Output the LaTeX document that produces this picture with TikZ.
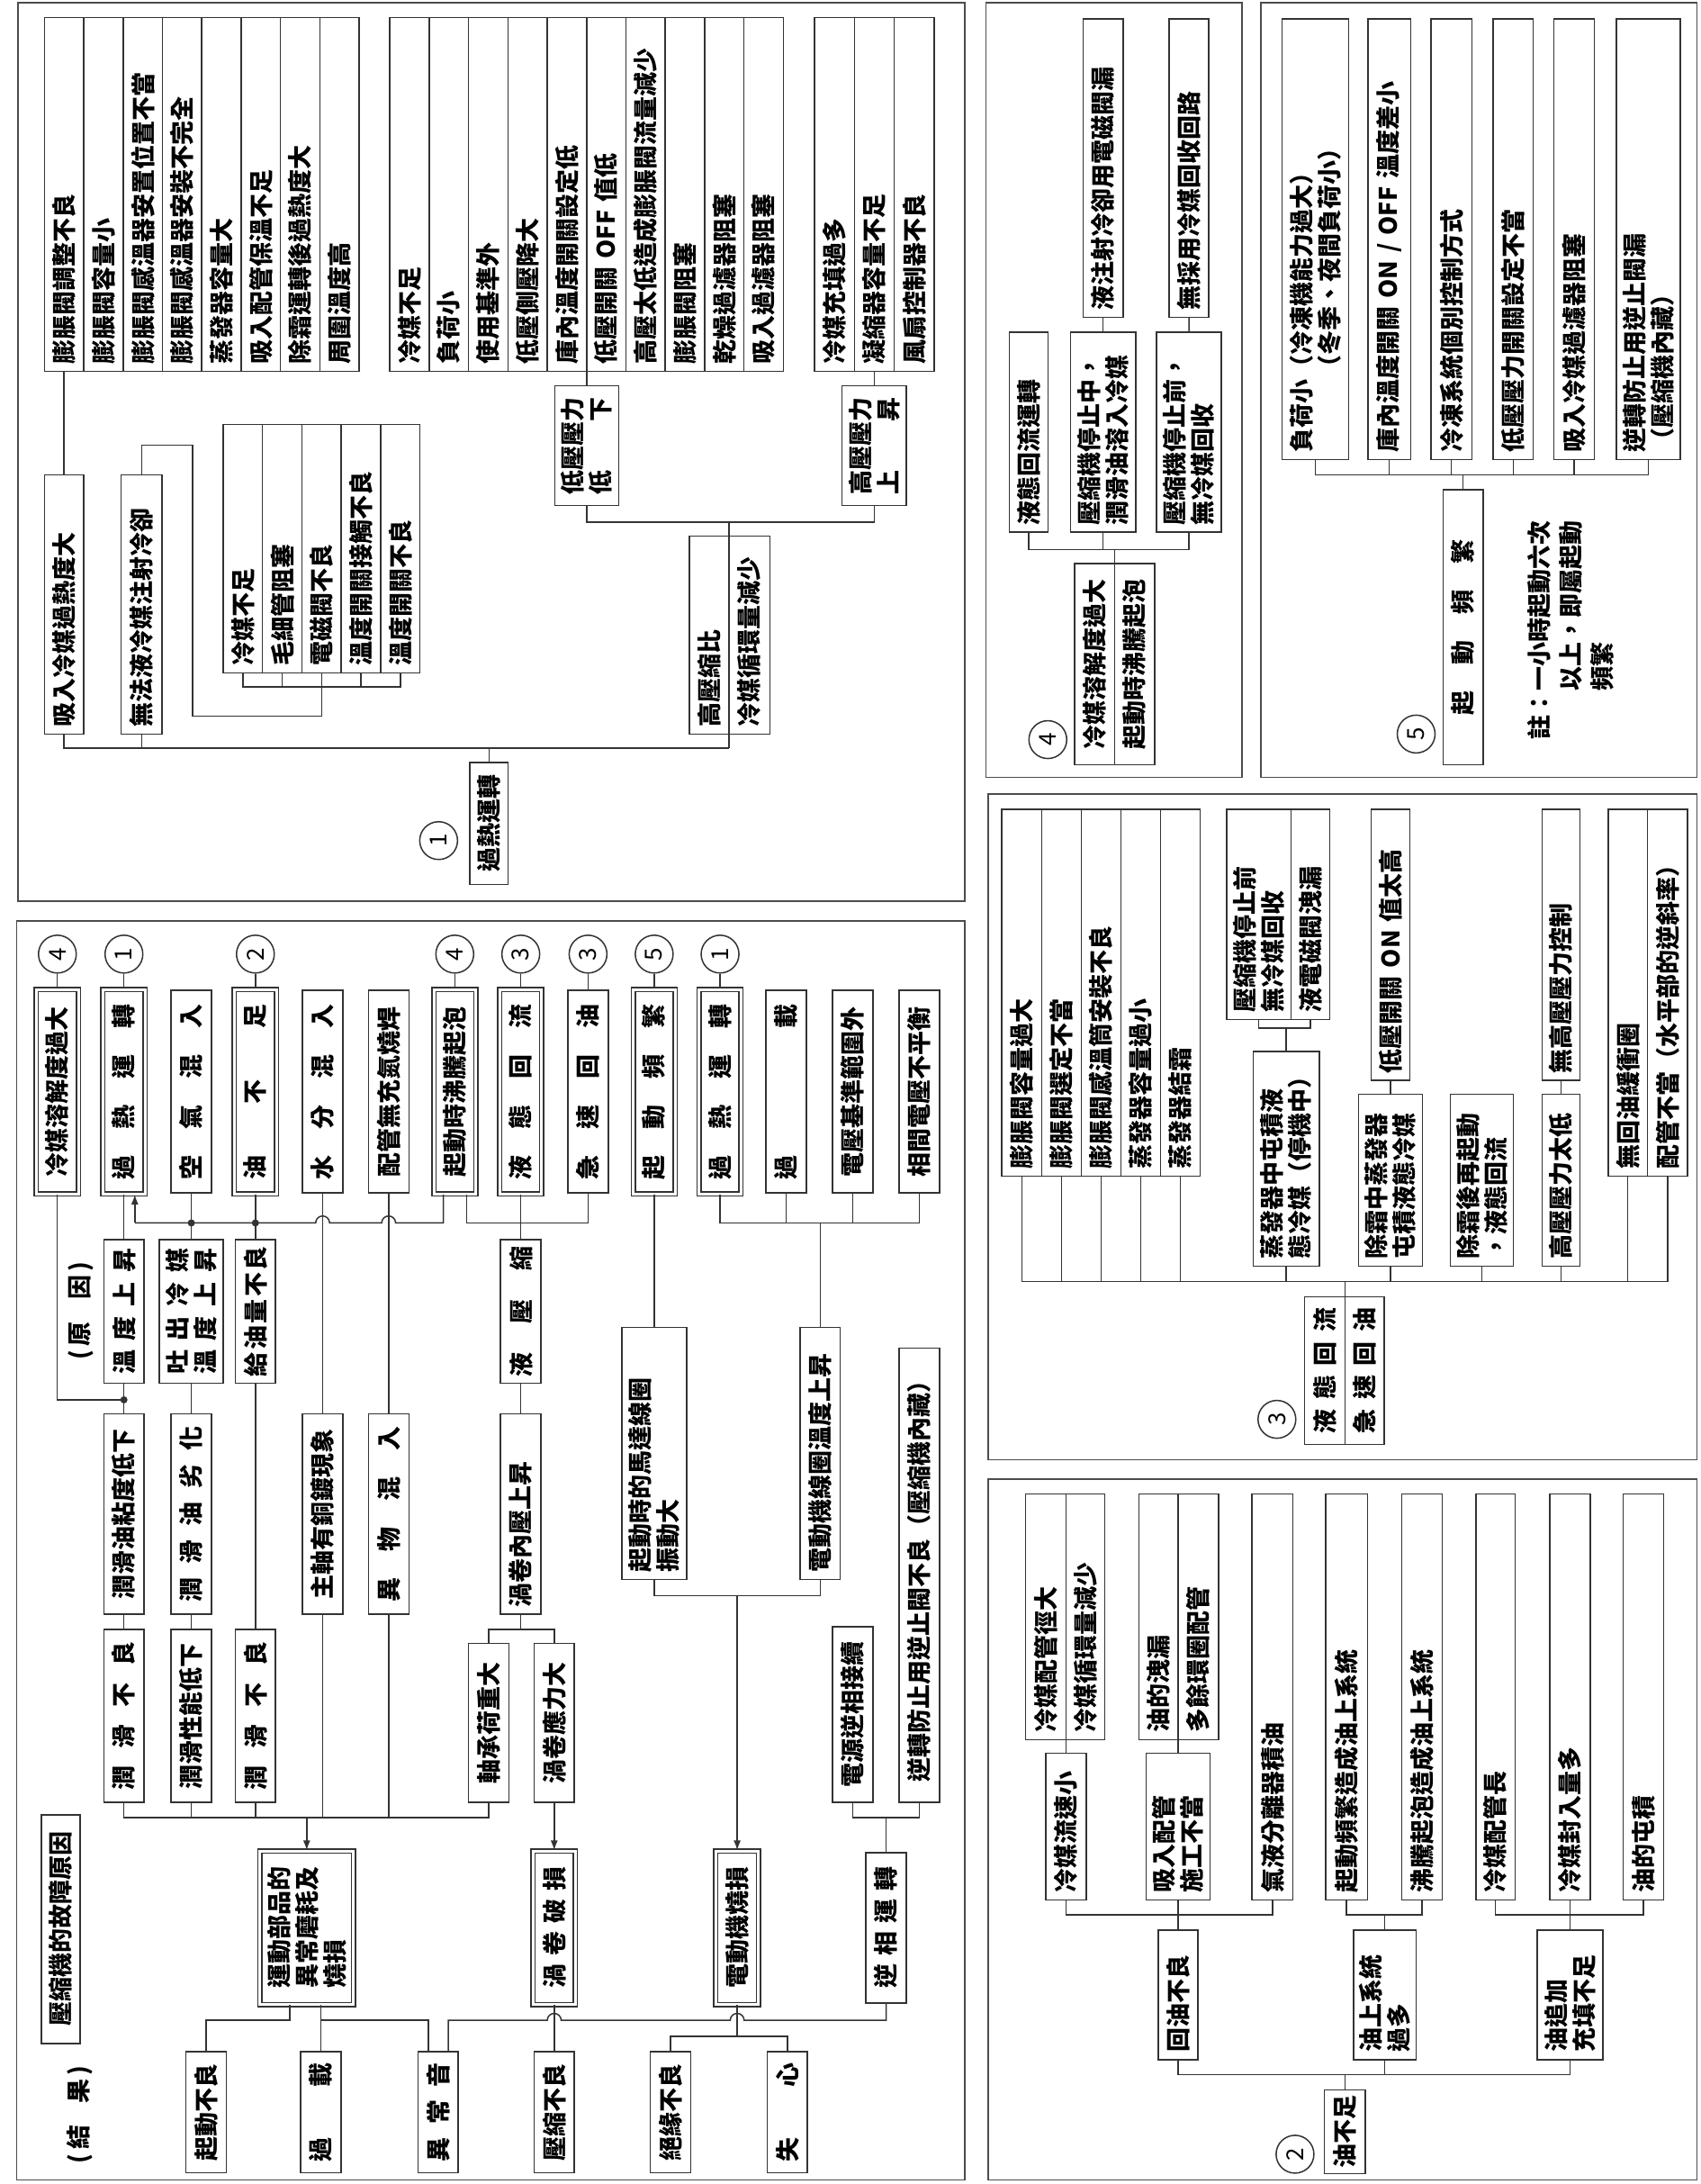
\documentclass[tikz,border=0pt]{standalone}
\usepackage{fontspec}
\setmainfont{Noto Sans CJK TC}
\usetikzlibrary{arrows.meta}
\newcommand\U{1.547pt}
\newcommand\fs{\fontsize{27pt}{31pt}\selectfont\bfseries}
\newcommand\spr[2]{\makebox[#1]{#2}}
\tikzset{
  ln/.style={line width=1.5pt,draw=black!80},
  ar/.style={ln,-{Latex[length=11pt,width=8pt]}},
  bx/.style={draw=black!80,line width=1.5pt,fill=white,rotate=90,inner sep=0pt,align=center,font=\fs},
  db/.style={double=white,double distance=3pt},
  circ/.style={draw=black!80,line width=1.5pt,circle,minimum size=42pt,inner sep=0pt,rotate=90,font=\fontsize{26pt}{26pt}\selectfont},
  frame/.style={draw=black!70,line width=1.6pt},
  lbl/.style={rotate=90,font=\fs,inner sep=0pt},
}
\newcommand\bx[7][]{\node[bx,minimum width={(#6-#5)*\U},minimum height={(#4-#3)*\U},#1] (#2) at ({(#3+#4)/2},{(#5+#6)/2}) {#7};}
\newcommand\lbx[7][]{\node[bx,align=left,inner xsep=8pt,text width={(#6-#5)*\U-16pt},minimum height={(#4-#3)*\U},#1] (#2) at ({(#3+#4)/2},{(#5+#6)/2}) {#7};}
\newcommand\dbx[7][]{\node[bx,db,minimum width={(#6-#5)*\U-6pt},minimum height={(#4-#3)*\U-6pt},#1] (#2) at ({(#3+#4)/2},{(#5+#6)/2}) {#7};}
\newcommand\jdot[1]{\fill[black!80] (#1) circle (4pt);}
\begin{document}
\begin{tikzpicture}[x=1.547pt,y=-1.547pt]
\fill[white] (0,0) rectangle (1221,1568);
% ---------------- frames
\draw[frame] (12,661) rectangle (693,1565);
\draw[frame] (13,2) rectangle (693,647);
\draw[frame] (708,2) rectangle (892,558);
\draw[frame] (905.6,2) rectangle (1218.6,558);
\draw[frame] (709.5,570) rectangle (1218.6,1048);
\draw[frame] (709.5,1062) rectangle (1218.6,1565);

% ================= PANEL A =================
\dbx{tA1}{24.2}{58.2}{708.5}{859}{冷媒溶解度過大}
\dbx{tA2}{72}{106}{708.5}{859}{\spr{195pt}{過\hfill 熱\hfill 運\hfill 轉}}
\bx{tA3}{122.9}{151.9}{711}{856.5}{\spr{195pt}{空\hfill 氣\hfill 混\hfill 入}}
\dbx{tA4}{166.4}{200.4}{708.5}{859}{\spr{195pt}{油\hfill 不\hfill 足}}
\bx{tA5}{217.2}{246.2}{711}{856.5}{\spr{195pt}{水\hfill 分\hfill 混\hfill 入}}
\bx{tA6}{264.6}{293.6}{711}{856.5}{配管無充氮燒焊}
\dbx{tA7}{309.6}{343.6}{708.5}{859}{起動時沸騰起泡}
\dbx{tA8}{357}{391}{708.5}{859}{\spr{195pt}{液\hfill 態\hfill 回\hfill 流}}
\bx{tA9}{407.8}{436.8}{711}{856.5}{\spr{195pt}{急\hfill 速\hfill 回\hfill 油}}
\dbx{tA10}{452.8}{486.8}{708.5}{859}{\spr{195pt}{起\hfill 動\hfill 頻\hfill 繁}}
\dbx{tA11}{500.1}{534.1}{708.5}{859}{\spr{195pt}{過\hfill 熱\hfill 運\hfill 轉}}
\bx{tA12}{550.1}{579.1}{711}{856.5}{\spr{195pt}{過\hfill 載}}
\bx{tA13}{597.9}{626.9}{711}{856.5}{電壓基準範圍外}
\bx{tA14}{645.8}{674.8}{711}{856.5}{相間電壓不平衡}

\node[circ] (k1) at (41.2,685) {4};
\node[circ] (k2) at (89,685) {1};
\node[circ] (k3) at (183.4,685) {2};
\node[circ] (k4) at (326.6,685) {4};
\node[circ] (k5) at (374,685) {3};
\node[circ] (k6) at (422.3,685) {3};
\node[circ] (k7) at (469.8,685) {5};
\node[circ] (k8) at (517.1,685) {1};

\bx{L2a}{74.5}{103.5}{890}{993}{\spr{140pt}{溫\hfill 度\hfill 上\hfill 昇}}
\bx{L2b}{114.4}{160.4}{890}{993}{\spr{140pt}{吐\hfill 出\hfill 冷\hfill 媒}\\\spr{140pt}{溫\hfill 度\hfill 上\hfill 昇}}
\bx{L2c}{168.9}{197.9}{890}{993}{\spr{145pt}{給\hfill 油\hfill 量\hfill 不\hfill 良}}
\bx{L2d}{359.5}{388.5}{890}{993}{\spr{145pt}{液\hfill 壓\hfill 縮}}
\node[lbl] (yuanyin) at (58.4,941) {(\,原\hspace{0.9em}因\,)};

\bx{L3a}{74.5}{103.5}{1015}{1159}{潤滑油粘度低下}
\bx{L3b}{122.9}{151.9}{1015}{1159}{\spr{195pt}{潤\hfill 滑\hfill 油\hfill 劣\hfill 化}}
\bx{L3c}{217.2}{246.2}{1015}{1159}{主軸有銅鍍現象}
\bx{L3d}{264.6}{293.6}{1015}{1159}{\spr{195pt}{異\hfill 物\hfill 混\hfill 入}}
\lbx{L3e}{359.5}{388.5}{1015}{1159}{渦卷內壓上昇}
\lbx{SM}{446.5}{493.1}{953}{1134}{起動時的馬達線圈\\振動大}
\lbx{MC}{574.5}{603.5}{953}{1134}{電動機線圈溫度上昇}
\bx{CV}{645.8}{674.8}{968}{1294}{逆轉防止用逆止閥不良（壓縮機內藏）}
\bx{PR}{597.9}{626.9}{1168}{1294}{電源逆相接續}

\bx{L4a}{74.5}{103.5}{1170}{1294}{\spr{165pt}{潤\hfill 滑\hfill 不\hfill 良}}
\bx{L4b}{122.9}{151.9}{1170}{1294}{潤滑性能低下}
\bx{L4c}{168.9}{197.9}{1170}{1294}{\spr{165pt}{潤\hfill 滑\hfill 不\hfill 良}}
\bx{L4d}{336.5}{365.5}{1180}{1294}{軸承荷重大}
\bx{L4e}{383.5}{412.5}{1180}{1294}{渦卷應力大}

\dbx[align=left]{MP}{184.8}{255.7}{1327}{1441}{運動部品的\\異常磨耗及\\燒損}
\dbx{SB}{381}{415}{1327}{1441}{\spr{135pt}{渦\hfill 卷\hfill 破\hfill 損}}
\dbx{MB}{512.2}{546.6}{1327}{1441}{電動機燒損}
\bx{RP}{621.85}{650.85}{1330}{1438}{\spr{135pt}{逆\hfill 相\hfill 運\hfill 轉}}

\bx{TT}{29.7}{57.5}{1303}{1467}{壓縮機的故障原因}
\node[lbl] (jieguo) at (57,1518) {(\,結\hspace{0.9em}果\,)};

\bx{R1}{133.5}{162.5}{1473}{1560}{起動不良}
\bx{R2}{215.9}{244.9}{1473}{1560}{\spr{110pt}{過\hfill 載}}
\bx{R3}{300.1}{329.1}{1473}{1560}{\spr{110pt}{異\hfill 常\hfill 音}}
\bx{R4}{383.5}{412.5}{1473}{1560}{壓縮不良}
\bx{R5}{467.1}{496.1}{1473}{1560}{絕緣不良}
\bx{R6}{550.9}{579.9}{1473}{1560}{\spr{110pt}{失\hfill 心}}

% connectors panel A
\foreach \a/\b in {k1/tA1,k2/tA2,k3/tA4,k4/tA7,k5/tA8,k6/tA9,k7/tA10,k8/tA11}{\draw[ln] (\a) -- (\b);}
\draw[ln] (tA7.west -| 318.4,0) -- (318.4,878) -- (284.1,878) arc[start angle=0,end angle=180,radius=5*\U] -- (236.7,878) arc[start angle=0,end angle=180,radius=5*\U] -- (96.8,878);
\draw[ar] (96.8,878) -- (tA2.west -| 96.8,0);
\draw[ln] (tA3) -- (L2b);
\draw[ln] (tA4) -- (L2c);
\draw[ln] (tA2) -- (L2a);
\draw[ln] (tA5) -- (L3c);
\draw[ln] (tA6) -- (L3d);
\jdot{137.4,878}
\jdot{183.4,878}
\draw[ln] (tA7.west -| 335.2,0) -- (335.2,878) -| (tA9.west);
\draw[ln] (tA8) -- (L2d);
\draw[ln] (L2d) -- (L3e);
\draw[ln] (tA11.west) |- (tA14.west |- 0,878) -- (tA14.west);
\draw[ln] (tA12.west) -- (tA12.west |- 0,878);
\draw[ln] (tA13.west) -- (tA13.west |- 0,878);
\draw[ln] (MC.east |- 0,878) -- (MC.east);
\draw[ln] (tA10) -- (SM);
\draw[ln] (tA1.west) |- (L2a.west |- 0,1005);
\jdot{89,1005}
\draw[ln] (L2a) -- (L3a);
\draw[ln] (L2b) -- (L3b);
\draw[ln] (L2c) -- (L4c);
\draw[ln] (L3a) -- (L4a);
\draw[ln] (L3b) -- (L4b);
\draw[ln] (L3e.west) -- (L3e.west |- 0,1170);
\draw[ln] (L4d.east) |- (L4e.east |- 0,1170) -- (L4e.east);
\draw[ln] (L4a.west) |- (L4d.west |- 0,1305) -- (L4d.west);
\draw[ln] (L4b.west) -- (L4b.west |- 0,1305);
\draw[ln] (L4c.west) -- (L4c.west |- 0,1305);
\draw[ln] (L3c.west) -- (L3c.west |- 0,1305);
\draw[ln] (L3d.west) -- (L3d.west |- 0,1305);
\draw[ar] (MP.east |- 0,1305) -- (MP.east);
\draw[ar] (L4e) -- (SB);
\draw[ln] (SM.west) |- (MC.west |- 0,1145.6) -- (MC.west);
\draw[ar] (MB.east |- 0,1145.6) -- (MB.east);
\draw[ln] (PR.west) |- (CV.west |- 0,1305) -- (CV.west);
\draw[ln] (RP.east |- 0,1305) -- (RP.east);
\draw[ln] (MP.west -| 208.2,0) -- (208.2,1450.5) -| (R1.east);
\draw[ln] (MP.west -| R2.east) -- (R2.east);
\draw[ln] (230.4,1450.5) -| (R3.east -| 307.5,0);
\draw[ln] (R3.east -| 322,0) -- (322,1450.5) -- (393,1450.5) arc[start angle=180,end angle=0,radius=5*\U] -- (524.4,1450.5) arc[start angle=180,end angle=0,radius=5*\U] -| (RP.west);
\draw[ln] (SB) -- (R4);
\draw[ln] (MB.west) -- (MB.west |- 0,1462);
\draw[ln] (R5.east) |- (R6.east |- 0,1462) -- (R6.east);

% ================= PANEL 1 =================
\lbx{P1c1}{31.9}{60.15}{12.5}{266.5}{膨脹閥調整不良}
\lbx{P1c2}{60.15}{88.4}{12.5}{266.5}{膨脹閥容量小}
\lbx{P1c3}{88.4}{116.65}{12.5}{266.5}{膨脹閥感溫器安置位置不當}
\lbx{P1c4}{116.65}{144.9}{12.5}{266.5}{膨脹閥感溫器安裝不完全}
\lbx{P1c5}{144.9}{173.15}{12.5}{266.5}{蒸發器容量大}
\lbx{P1c6}{173.15}{201.4}{12.5}{266.5}{吸入配管保溫不足}
\lbx{P1c7}{201.4}{229.65}{12.5}{266.5}{除霜運轉後過熱度大}
\lbx{P1c8}{229.65}{257.9}{12.5}{266.5}{周圍溫度高}

\lbx{P2c1}{280}{308.25}{12.5}{266.5}{冷媒不足}
\lbx{P2c2}{308.25}{336.5}{12.5}{266.5}{負荷小}
\lbx{P2c3}{336.5}{364.75}{12.5}{266.5}{使用基準外}
\lbx{P2c4}{364.75}{393}{12.5}{266.5}{低壓側壓降大}
\lbx{P2c5}{393}{421.25}{12.5}{266.5}{庫內溫度開關設定低}
\lbx{P2c6}{421.25}{449.5}{12.5}{266.5}{低壓開關 OFF 值低}
\lbx{P2c7}{449.5}{477.75}{12.5}{266.5}{高壓太低造成膨脹閥流量減少}
\lbx{P2c8}{477.75}{506}{12.5}{266.5}{膨脹閥阻塞}
\lbx{P2c9}{506}{534.25}{12.5}{266.5}{乾燥過濾器阻塞}
\lbx{P2c10}{534.25}{562.5}{12.5}{266.5}{吸入過濾器阻塞}

\lbx{P3c1}{585}{613.6}{12.5}{266.5}{冷媒充填過多}
\lbx{P3c2}{613.6}{642.2}{12.5}{266.5}{凝縮器容量不足}
\lbx{P3c3}{642.2}{670.8}{12.5}{266.5}{風扇控制器不良}

\lbx{P1a}{31.9}{60.15}{341}{527}{吸入冷媒過熱度大}
\lbx{P1b}{87}{116.4}{341}{527}{無法液冷媒注射冷卻}

\lbx{K1}{160.3}{188.56}{304.7}{483}{冷媒不足}
\lbx{K2}{188.56}{216.82}{304.7}{483}{毛細管阻塞}
\lbx{K3}{216.82}{245.08}{304.7}{483}{電磁閥不良}
\lbx{K4}{245.08}{273.34}{304.7}{483}{溫度開關接觸不良}
\lbx{K5}{273.34}{301.6}{304.7}{483}{溫度開關不良}

\bx{LP}{398.5}{444.4}{277}{363}{低壓壓力\\\makebox[4em]{低\hfill 下}}
\bx{HP}{604.5}{651}{277}{363}{高壓壓力\\\makebox[4em]{上\hfill 昇}}
\lbx{C1}{495}{523.5}{385}{527}{高壓縮比}
\lbx{C2}{523.5}{553}{385}{527}{冷媒循環量減少}
\bx{P1R}{337.5}{365}{547.5}{635}{過熱運轉}
\node[circ] (k9) at (315,603.5) {1};

\draw[ln] (P1c1) -- (P1a);
\draw[ln] (P1a.west) |- (523.5,537);
\draw[ln] (P1b.west) -- (P1b.west |- 0,537);
\draw[ln] (P1R.east |- 0,537) -- (P1R.east);
\draw[ln] (523.5,375) -- (523.5,537);
\draw[ln] (LP.west) |- (HP.west |- 0,375) -- (HP.west);
\draw[ln] (LP.east) -- (LP.east |- 0,266.5);
\draw[ln] (HP.east) -- (HP.east |- 0,266.5);
\draw[ln] (K1.west) |- (K5.west |- 0,493.3) -- (K5.west);
\draw[ln] (K2.west) -- (K2.west |- 0,493.3);
\draw[ln] (K4.west) -- (K4.west |- 0,493.3);
\draw[ln] (K3.west) -- (K3.west |- 0,514) -- (138.3,514) -- (138.3,319.7) -| (P1b.east);

% ================= PANEL 4 =================
\lbx{Q1}{725}{752.5}{238.6}{382}{液態回流運轉}
\lbx{Q2}{768.8}{815.6}{238.6}{382}{壓縮機停止中，\\潤滑油溶入冷媒}
\lbx{Q3}{830.6}{877}{238.6}{382}{壓縮機停止前，\\無冷媒回收}
\lbx{Q2t}{777.9}{806.5}{13.6}{227.7}{液注射冷卻用電磁閥漏}
\lbx{Q3t}{839.7}{867.9}{13.6}{227.7}{無採用冷媒回收回路}
\bx{QRa}{771.8}{800.4}{404.7}{549}{冷媒溶解度過大}
\bx{QRb}{800.4}{829.2}{404.7}{549}{起動時沸騰起泡}
\node[circ] (k10) at (752.5,531) {4};
\draw[ln] (Q2) -- (Q2t);
\draw[ln] (Q3) -- (Q3t);
\draw[ln] (Q1.west) |- (Q3.west |- 0,394.7) -- (Q3.west);
\draw[ln] (Q2.west) -- (Q2.west |- 0,394.7);
\draw[ln] (800.4,394.7) -- (QRa.east -| 800.4,0);

% ================= PANEL 5 =================
\lbx{F1}{920.7}{968.4}{13.6}{330}{負荷小（冷凍機能力過大）\\\hspace*{3em}（冬季、夜間負荷小）}
\lbx{F2}{982.5}{1013}{13.6}{330}{庫內溫度開關 ON / OFF 溫度差小}
\lbx{F3}{1027.7}{1057}{13.6}{330}{冷凍系統個別控制方式}
\lbx{F4}{1072.4}{1101}{13.6}{330}{低壓壓力開關設定不當}
\lbx{F5}{1116}{1145}{13.6}{330}{吸入冷媒過濾器阻塞}
\lbx{F6}{1160.7}{1206.7}{13.6}{330}{逆轉防止用逆止閥漏\\（壓縮機內藏）}
\bx{FR}{1036.4}{1065}{351.6}{549}{\spr{195pt}{起\hfill 動\hfill 頻\hfill 繁}}
\node[circ] (k11) at (1017,527) {5};
\node[lbl,align=left,anchor=north west,font=\fontsize{27pt}{35pt}\selectfont\bfseries] (note) at (1097,531) {註：一小時起動六次\\\hspace*{2em}以上，即屬起動\\\hspace*{2em}頻繁};
\draw[ln] (F1.west) |- (F6.west |- 0,340.8) -- (F6.west);
\foreach \n in {F2,F3,F4,F5}{\draw[ln] (\n.west) -- (\n.west |- 0,340.8);}
\draw[ln] (FR.east) -- (FR.east |- 0,340.8);

% ================= PANEL 3 =================
\lbx{S1}{719.5}{748}{581}{844.5}{膨脹閥容量過大}
\lbx{S2}{748}{776.5}{581}{844.5}{膨脹閥選定不當}
\lbx{S3}{776.5}{805}{581}{844.5}{膨脹閥感溫筒安裝不良}
\lbx{S4}{805}{833.5}{581}{844.5}{蒸發器容量過小}
\lbx{S5}{833.5}{862}{581}{844.5}{蒸發器結霜}
\lbx{G1}{880.8}{927}{581}{732}{壓縮機停止前\\無冷媒回收}
\lbx{G2}{927}{954.8}{581}{732}{液電磁閥洩漏}
\lbx{G3}{900}{947.4}{755}{909}{蒸發器中屯積液\\態冷媒（停機中）}
\lbx{G4}{984.6}{1012.6}{581}{775.7}{低壓開關 ON 值太高}
\lbx{G5}{975.6}{1021.6}{785.6}{909}{除霜中蒸發器\\屯積液態冷媒}
\lbx{G6}{1041.5}{1086.8}{785.6}{909}{除霜後再起動\\，液態回流}
\lbx{G7}{1107.5}{1134.6}{581}{775.7}{無高壓壓力控制}
\lbx{G8}{1107.5}{1134.6}{785.6}{909}{高壓壓力太低}
\lbx{S6}{1155}{1183}{581}{844.5}{無回油緩衝圈}
\lbx{S7}{1183}{1212}{581}{844.5}{配管不當（水平部的逆斜率）}
\bx{RR1}{936.7}{965.8}{931}{1037}{\spr{140pt}{液\hfill 態\hfill 回\hfill 流}}
\bx{RR2}{965.8}{994}{931}{1037}{\spr{140pt}{急\hfill 速\hfill 回\hfill 油}}
\node[circ] (k12) at (917,1019) {3};
\draw[ln] (G1.west) |- (G2.west |- 0,738) -- (G2.west);
\draw[ln] (G3.east |- 0,738) -- (G3.east);
\draw[ln] (G4) -- (G5);
\draw[ln] (G7) -- (G8);
\draw[ln] (S1.west) |- (S7.west |- 0,920) -- (S7.west);
\foreach \n in {S2,S3,S4,S5,S6,G3,G5,G6,G8}{\draw[ln] (\n.west) -- (\n.west |- 0,920);}
\draw[ln] (965.8,920) -- (RR1.east -| 965.8,0);

% ================= PANEL 2 =================
\lbx{AA1}{736.5}{765.5}{1072.7}{1249}{冷媒配管徑大}
\lbx{AA2}{765.5}{793.5}{1072.7}{1249}{冷媒循環量減少}
\lbx{BB1}{818}{846}{1072.7}{1249}{油的洩漏}
\lbx{BB2}{846}{875}{1072.7}{1249}{多餘環圈配管}
\lbx{T1}{899}{928.6}{1072.7}{1364}{氣液分離器積油}
\lbx{T2}{952}{982}{1072.7}{1364}{起動頻繁造成油上系統}
\lbx{T3}{1006.5}{1035.6}{1072.7}{1364}{沸騰起泡造成油上系統}
\lbx{T4}{1060}{1088}{1072.7}{1364}{冷媒配管長}
\lbx{T5}{1113}{1142}{1072.7}{1364}{冷媒封入量多}
\lbx{T6}{1165.7}{1194.7}{1072.7}{1364}{油的屯積}
\lbx{M1}{751}{780}{1258.6}{1364}{冷媒流速小}
\lbx{M2}{823}{869}{1258.6}{1364}{吸入配管\\施工不當}
\lbx{N1}{831.8}{860.2}{1385.8}{1478.7}{回油不良}
\lbx{N2}{972}{1017}{1385.8}{1478.7}{油上系統\\過多}
\lbx{N3}{1104}{1151}{1385.8}{1478.7}{油追加\\充填不足}
\bx{OR}{951}{980.6}{1500.6}{1560.7}{油不足}
\node[circ] (k13) at (930,1546.6) {2};
\draw[ln] (AA1.west -| M1.east) -- (M1.east);
\draw[ln] (BB1.west -| M2.east) -- (M2.east);
\draw[ln] (M1.west) |- (T1.west |- 0,1374.6) -- (T1.west);
\draw[ln] (M2) -- (N1);
\draw[ln] (T2.west) |- (T3.west |- 0,1374.6) -- (T3.west);
\draw[ln] (N2.east |- 0,1374.6) -- (N2.east);
\draw[ln] (T4.west) |- (T6.west |- 0,1374.6) -- (T6.west);
\draw[ln] (T5) -- (N3);
\draw[ln] (N1.west) |- (N3.west |- 0,1489.4) -- (N3.west);
\draw[ln] (N2.west) -- (N2.west |- 0,1489.4);
\draw[ln] (OR.east |- 0,1489.4) -- (OR.east);
\end{tikzpicture}
\end{document}
